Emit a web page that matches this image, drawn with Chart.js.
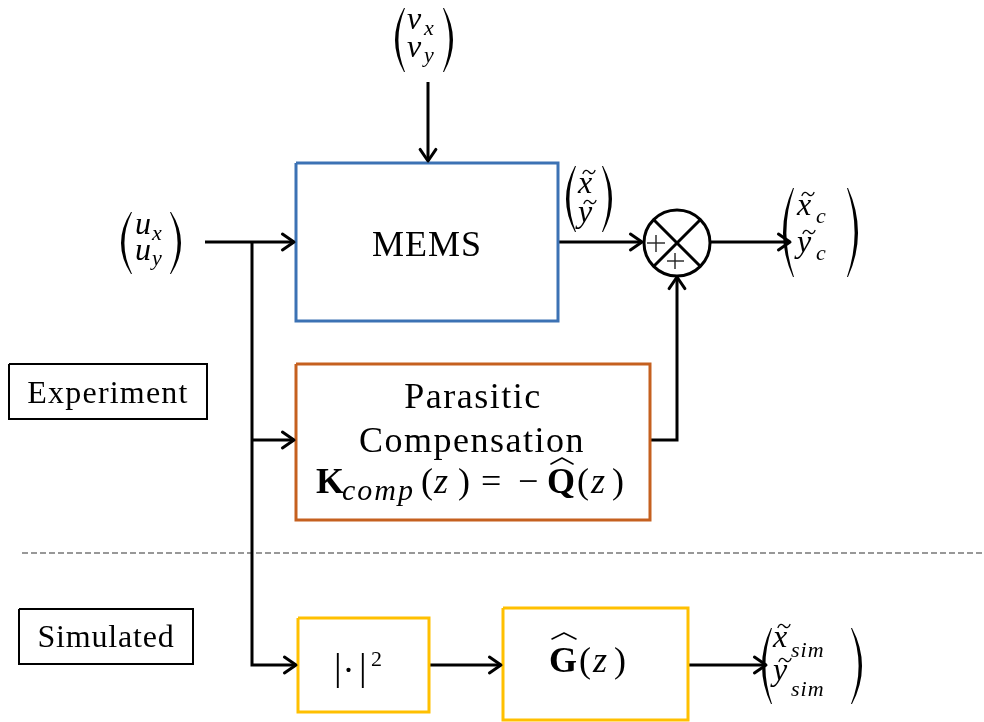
<!DOCTYPE html>
<html>
<head>
<meta charset="utf-8">
<script src="https://cdn.jsdelivr.net/npm/chart.js@4.4.1/dist/chart.umd.min.js"></script>
<style>
  html, body { margin: 0; padding: 0; background: #fff; }
  canvas { display: block; }
</style>
</head>
<body>
<canvas id="diagram" width="984" height="722"></canvas>
<script>
// Block outlines: [left, top, right, bottom] in diagram units (y grows downward)
const blockNames  = ['MEMS', 'Parasitic', 'Square', 'Ghat', 'Experiment', 'Simulated'];
const blockRects  = [[296, 163, 558, 321], [296, 364, 650, 520], [298, 618, 429, 712], [503, 608, 688, 720], [9, 364, 207, 419], [19, 609, 193, 664]];
const blockColors = ['#3c72b4', '#c5601f', '#ffc000', '#ffc000', '#000000', '#000000'];

// Signal wires, each a polyline ending in an arrow head
const wireInput    = [[205, 242], [294, 242]];
const wireBranchSq = [[252, 242], [252, 665], [296, 665]];
const wireBranchK  = [[252, 440], [294, 440]];
const wireDisturb  = [[428, 82], [428, 161]];
const wireMemsOut  = [[558, 242], [642, 242]];
const wireSumOut   = [[710, 242], [790, 242]];
const wireCompOut  = [[650, 440], [677, 440], [677, 277]];
const wireSqOut    = [[429, 665], [501, 665]];
const wireGOut     = [[688, 665], [766, 665]];
const wires = [wireInput, wireBranchSq, wireBranchK, wireDisturb, wireMemsOut, wireSumOut, wireCompOut, wireSqOut, wireGOut];

// Summing junction
const sumCenter = [677, 243];
const sumRadius = 33;
const sumCross  = [[[654, 220], [700, 266]], [[700, 220], [654, 266]]];
const plusLeft  = [[[647, 243], [665, 243]], [[656, 235], [656, 252]]];
const plusDown  = [[[667, 261], [684, 261]], [[675, 253], [675, 269]]];

// Separator between experiment and simulation
const separator = [[22, 553], [984, 553]];

const pts = arr => arr.map(p => ({ x: p[0], y: p[1] }));

const datasets = [];
blockRects.forEach((r, i) => {
  datasets.push({
    label: blockNames[i],
    data: pts([[r[0], r[1]], [r[2], r[1]], [r[2], r[3]], [r[0], r[3]], [r[0], r[1]]]),
    borderColor: blockColors[i],
    borderWidth: i < 4 ? 3 : 2,
    order: 2
  });
});
wires.forEach((w, i) => {
  datasets.push({ label: 'wire' + i, data: pts(w), borderColor: '#000', borderWidth: 3, order: 3 });
});
datasets.push({
  label: 'sum', data: pts([sumCenter]), showLine: false,
  pointRadius: sumRadius, pointBorderWidth: 3, pointBackgroundColor: '#fff', pointBorderColor: '#000', order: 1
});
sumCross.forEach(s => datasets.push({ label: 'cross', data: pts(s), borderColor: '#000', borderWidth: 3, order: 0 }));
plusLeft.concat(plusDown).forEach(s => datasets.push({ label: 'plus', data: pts(s), borderColor: '#222', borderWidth: 1.4, order: 0 }));
datasets.push({ label: 'sep', data: pts(separator), borderColor: '#333', borderWidth: 1.2, borderDash: [6, 3], order: 4 });

const SERIF = "'Liberation Serif', serif";

function txt(ctx, s, font, x, y, spacing) {
  ctx.font = font;
  ctx.letterSpacing = (spacing || 0) + 'px';
  ctx.fillText(s, x, y);
  ctx.letterSpacing = '0px';
}

// tall bracket for the 2-row vectors
function paren(ctx, bulge, ends, yTop, yBot) {
  const mid = (yTop + yBot) / 2;
  const dir = ends > bulge ? 1 : -1;
  const t = 3.4;
  ctx.beginPath();
  ctx.moveTo(ends, yTop);
  ctx.quadraticCurveTo(2 * bulge - ends, mid, ends, yBot);
  ctx.lineTo(ends + dir * 1, yBot);
  ctx.quadraticCurveTo(2 * (bulge + dir * t) - ends - dir * 1, mid, ends + dir * 1, yTop);
  ctx.closePath();
  ctx.fill();
}

// small wave accent centred on (cx, y)
function tilde(ctx, cx, y) {
  ctx.beginPath();
  ctx.lineWidth = 1.3;
  ctx.lineCap = 'round';
  ctx.moveTo(cx - 6, y + 1.5);
  ctx.bezierCurveTo(cx - 4.5, y - 2.5, cx - 2, y - 2.5, cx, y);
  ctx.bezierCurveTo(cx + 2, y + 2.5, cx + 4.5, y + 2.5, cx + 6, y - 1.5);
  ctx.stroke();
}

function hat(ctx, cx, y, w) {
  ctx.beginPath();
  ctx.lineWidth = 1.6;
  ctx.moveTo(cx - w / 2, y + 6);
  ctx.lineTo(cx, y);
  ctx.lineTo(cx + w / 2, y + 6);
  ctx.stroke();
}

const diagramPlugin = {
  id: 'diagram',
  afterDatasetsDraw(chart) {
    const ctx = chart.ctx;
    const sx = chart.scales.x, sy = chart.scales.y;
    ctx.save();
    ctx.strokeStyle = '#000';
    ctx.fillStyle = '#000';
    ctx.lineCap = 'round';
    ctx.lineJoin = 'round';

    // arrow heads
    wires.forEach(w => {
      const a = w[w.length - 2], b = w[w.length - 1];
      const x1 = sx.getPixelForValue(a[0]), y1 = sy.getPixelForValue(a[1]);
      const x2 = sx.getPixelForValue(b[0]), y2 = sy.getPixelForValue(b[1]);
      const ang = Math.atan2(y2 - y1, x2 - x1);
      ctx.lineWidth = 3;
      ctx.beginPath();
      ctx.moveTo(x2 - 14 * Math.cos(ang - 0.6), y2 - 14 * Math.sin(ang - 0.6));
      ctx.lineTo(x2, y2);
      ctx.lineTo(x2 - 14 * Math.cos(ang + 0.6), y2 - 14 * Math.sin(ang + 0.6));
      ctx.stroke();
    });

    ctx.textBaseline = 'alphabetic';
    const it = s => 'italic ' + s + 'px ' + SERIF;
    const rm = s => s + 'px ' + SERIF;
    const bf = s => 'bold ' + s + 'px ' + SERIF;

    // block labels
    ctx.textAlign = 'center';
    txt(ctx, 'MEMS', rm(36), 427, 256, 1);
    txt(ctx, 'Parasitic', rm(36), 473, 408, 1.5);
    txt(ctx, 'Compensation', rm(36), 472, 452, 1.5);
    txt(ctx, 'Experiment', rm(32), 108, 403, 1.2);
    txt(ctx, 'Simulated', rm(32), 106, 647, 0.8);

    ctx.textAlign = 'left';
    // K_comp(z) = -Q(z)
    txt(ctx, 'K', bf(36), 316, 493);
    txt(ctx, 'comp', it(30), 342, 500, 2);
    txt(ctx, '(', rm(36), 421, 493);
    txt(ctx, 'z', it(36), 434, 493);
    txt(ctx, ')', rm(36), 458, 493);
    txt(ctx, '=', rm(36), 481, 493);
    txt(ctx, '\u2212', rm(36), 518, 493);
    txt(ctx, 'Q', bf(36), 547, 493);
    hat(ctx, 562, 458, 22);
    txt(ctx, '(', rm(36), 577, 493);
    txt(ctx, 'z', it(36), 591, 493);
    txt(ctx, ')', rm(36), 612, 493);

    // |.|^2
    txt(ctx, '|', rm(38), 334, 680);
    txt(ctx, '.', rm(36), 344, 672);
    txt(ctx, '|', rm(38), 359, 680);
    txt(ctx, '2', rm(22), 371, 666);

    // G(z)
    txt(ctx, 'G', bf(36), 549, 672);
    hat(ctx, 564, 633, 24);
    txt(ctx, '(', rm(36), 579, 672);
    txt(ctx, 'z', it(36), 593, 672);
    txt(ctx, ')', rm(36), 614, 672);

    // (v_x, v_y)
    paren(ctx, 395, 404, 8, 72);
    txt(ctx, 'v', it(32), 407, 29);
    txt(ctx, 'x', it(22), 424, 35);
    txt(ctx, 'v', it(32), 407, 57);
    txt(ctx, 'y', it(22), 424, 62);
    paren(ctx, 453, 444, 8, 72);

    // (u_x, u_y)
    paren(ctx, 121, 131, 212, 274);
    txt(ctx, 'u', it(32), 135, 234);
    txt(ctx, 'x', it(22), 152, 240);
    txt(ctx, 'u', it(32), 135, 260);
    txt(ctx, 'y', it(22), 152, 265);
    paren(ctx, 181, 171, 212, 274);

    // (x~, y~)
    paren(ctx, 566, 575, 166, 232);
    txt(ctx, 'x', it(32), 578, 193);
    tilde(ctx, 589, 172);
    txt(ctx, 'y', it(32), 578, 222);
    tilde(ctx, 590, 202);
    paren(ctx, 612, 603, 166, 232);

    // (x~_c, y~_c)
    paren(ctx, 783, 793, 188, 277);
    txt(ctx, 'x', it(32), 797, 215);
    tilde(ctx, 808, 194);
    txt(ctx, 'c', it(22), 816, 223);
    txt(ctx, 'y', it(32), 797, 252);
    tilde(ctx, 809, 232);
    txt(ctx, 'c', it(22), 816, 260);
    paren(ctx, 858, 848, 188, 277);

    // (x~_sim, y~_sim)
    paren(ctx, 762, 771, 628, 704);
    txt(ctx, 'x', it(32), 773, 647);
    tilde(ctx, 784, 626);
    txt(ctx, 'sim', it(22), 791, 657, 1);
    txt(ctx, 'y', it(32), 773, 680);
    tilde(ctx, 785, 660);
    txt(ctx, 'sim', it(22), 791, 696, 1);
    paren(ctx, 862, 852, 628, 704);

    ctx.restore();
  }
};

new Chart(document.getElementById('diagram'), {
  type: 'scatter',
  data: { datasets: datasets },
  options: {
    responsive: false,
    animation: false,
    devicePixelRatio: 1,
    events: [],
    layout: { padding: 0, autoPadding: false },
    datasets: {
      scatter: {
        showLine: true, pointRadius: 0, fill: false, tension: 0,
        borderCapStyle: 'butt', borderJoinStyle: 'miter', clip: false
      }
    },
    scales: {
      x: { type: 'linear', min: 0, max: 984, display: false },
      y: { type: 'linear', min: 0, max: 722, reverse: true, display: false }
    },
    plugins: { legend: { display: false }, tooltip: { enabled: false } }
  },
  plugins: [diagramPlugin]
});
</script>
</body>
</html>
